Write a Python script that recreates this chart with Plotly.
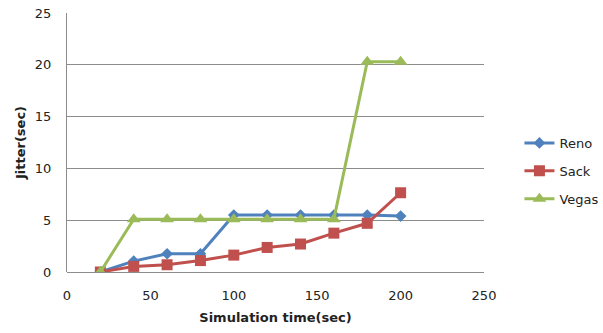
import plotly.graph_objects as go

sim_time = [20, 40, 60, 80, 100, 120, 140, 160, 180, 200]
reno = [0, 1.05, 1.76, 1.76, 5.5, 5.5, 5.5, 5.5, 5.5, 5.4]
sack = [0, 0.54, 0.7, 1.1, 1.63, 2.37, 2.7, 3.75, 4.7, 7.65]
vegas = [0, 5.1, 5.1, 5.1, 5.1, 5.1, 5.1, 5.1, 20.3, 20.3]

series = [
    ("Reno", reno, "#4F81BD", "diamond", 9),
    ("Sack", sack, "#C0504D", "square", 11),
    ("Vegas", vegas, "#9BBB59", "triangle-up", 12),
]

fig = go.Figure()
for name, vals, color, sym, size in series:
    fig.add_trace(go.Scatter(
        x=sim_time, y=vals, name=name, mode="lines+markers",
        legendgroup=name,
        line=dict(color=color, width=3),
        marker=dict(symbol=sym, size=size, color=color),
    ))

font = dict(family="DejaVu Sans", size=13, color="#222222")
fig.update_layout(
    width=603, height=333,
    margin=dict(l=67, r=119, t=13, b=61, autoexpand=False),
    paper_bgcolor="white", plot_bgcolor="white",
    font=font,
    showlegend=True,
    legend=dict(x=1.085, y=0.39, xanchor="left", yanchor="middle",
                font=dict(family="DejaVu Sans", size=13, color="#222222"),
                tracegroupgap=8, itemwidth=30),
    xaxis=dict(range=[0, 250], tickvals=[0, 50, 100, 150, 200, 250],
               showgrid=False, zeroline=False, showline=False,
               ticks="", ticklen=0, ticklabelstandoff=14,
               title=dict(text="<b>Simulation time(sec)</b>", standoff=10,
                          font=dict(family="DejaVu Sans", size=13))),
    yaxis=dict(range=[0, 25], tickvals=[0, 5, 10, 15, 20, 25],
               showgrid=True, gridcolor="#8c8c8c", gridwidth=1,
               zeroline=True, zerolinecolor="#8c8c8c", zerolinewidth=1,
               showline=True, linecolor="#8c8c8c",
               ticks="", ticklabelstandoff=12,
               title=dict(text="<b>Jitter(sec)</b>", standoff=6,
                          font=dict(family="DejaVu Sans", size=13))),
)
fig.write_html("out.html")
